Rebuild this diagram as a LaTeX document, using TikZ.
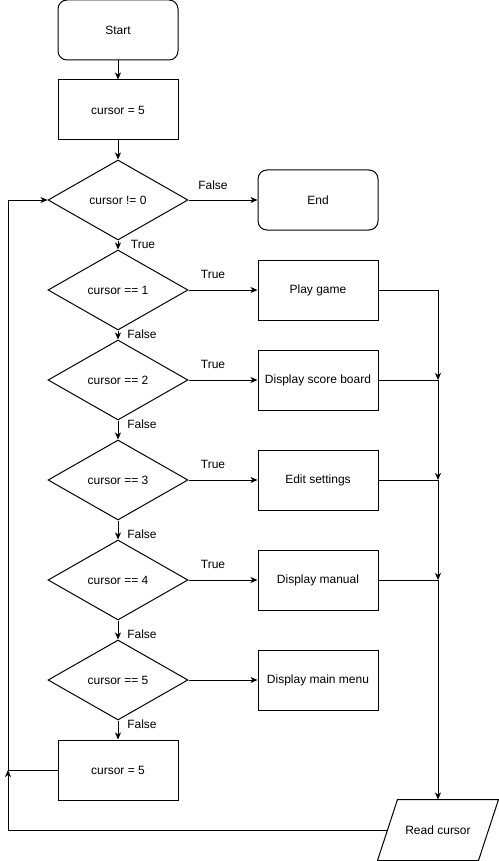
\documentclass[tikz,border=0pt]{standalone}
\usepackage{fontspec}
\setmainfont{Liberation Sans}
\usetikzlibrary{shapes.geometric,arrows.meta}
\begin{document}
\begin{tikzpicture}[x=1pt,y=-1pt,line width=1pt,
	font=\fontsize{12}{14}\selectfont,
	>={Stealth[length=7pt,width=6pt,inset=2pt]},
	terminal/.style={draw,rounded corners=9pt,minimum width=120pt,minimum height=60pt},
	process/.style={draw,minimum width=120pt,minimum height=60pt},
	decision/.style={draw,diamond,aspect=1.75,minimum width=140pt,minimum height=80pt,inner sep=0pt},
	io/.style={minimum width=100pt,minimum height=60pt}]
	\useasboundingbox (0,0) rectangle (498,861);

	% boxes
	\node[terminal] (start) at (118,30) {Start};
	\node[process] (init) at (118,110) {cursor = 5};
	\node[decision] (loop) at (118,200) {cursor != 0};
	\node[terminal] (end) at (318,200) {End};
	\node[decision] (c1) at (118,290) {cursor == 1};
	\node[process] (play) at (318,290) {Play game};
	\node[decision] (c2) at (118,380) {cursor == 2};
	\node[process] (score) at (318,380) {Display score board};
	\node[decision] (c3) at (118,480) {cursor == 3};
	\node[process] (settings) at (318,480) {Edit settings};
	\node[decision] (c4) at (118,580) {cursor == 4};
	\node[process] (manual) at (318,580) {Display manual};
	\node[decision] (c5) at (118,680) {cursor == 5};
	\node[process] (menu) at (318,680) {Display main menu};
	\node[process] (reset) at (118,770) {cursor = 5};
	\node[io] (read) at (438,830) {Read cursor};
	\draw ([xshift=-10pt]read.south west) -- ([xshift=10pt]read.north west)
		-- ([xshift=10pt]read.north east) -- ([xshift=-10pt]read.south east) -- cycle;

	\coordinate (j1) at (438,380);
	\coordinate (j2) at (438,480);
	\coordinate (j3) at (438,580);
	\coordinate (back) at (8,770);

	% main line
	\draw[->] (start) -- (init);
	\draw[->] (init) -- (loop);
	\draw[->] (loop) -- (end);
	\draw[->] (loop) -- (c1);
	\draw[->] (c1) -- (c2);
	\draw[->] (c2) -- (c3);
	\draw[->] (c3) -- (c4);
	\draw[->] (c4) -- (c5);
	\draw[->] (c5) -- (reset);

	\draw[->] (c1) -- (play);
	\draw[->] (c2) -- (score);
	\draw[->] (c3) -- (settings);
	\draw[->] (c4) -- (manual);
	\draw[->] (c5) -- (menu);

	% collecting line
	\draw[->] (play) -| (j1);
	\draw[->] (score) -- (j1) -- (j2);
	\draw[->] (settings) -- (j2) -- (j3);
	\draw[->] (manual) -- (j3) -- (j3 |- read.north);

	% back to the loop
	\draw[->] (reset) -- (back) |- (loop);
	\draw[->] (read) -| (back);

	% labels
	\node (f0) at (213,185) {False};
	\node (t0) at (143,244) {True};
	\node (t1) at (213,274) {True};
	\node (t2) at (213,364) {True};
	\node (t3) at (213,464) {True};
	\node (t4) at (213,564) {True};
	\node (f1) at (142,334) {False};
	\node (f2) at (142,424) {False};
	\node (f3) at (142,534) {False};
	\node (f4) at (142,634) {False};
	\node (f5) at (142,724) {False};
\end{tikzpicture}
\end{document}
